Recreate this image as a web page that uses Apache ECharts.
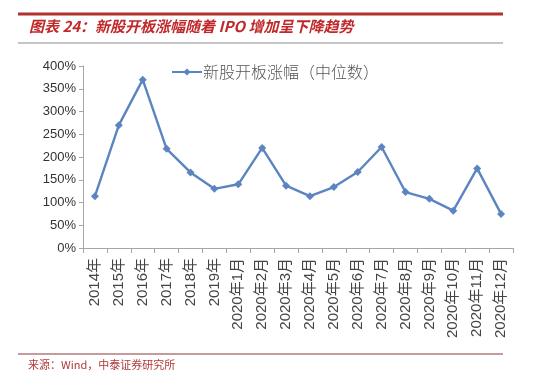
<!DOCTYPE html>
<html><head><meta charset="utf-8">
<script src="https://cdn.jsdelivr.net/npm/echarts@6/dist/echarts.min.js"></script>
<style>html,body{margin:0;padding:0;background:#fff}#c{width:550px;height:385px}</style>
</head><body><div id="c"></div>
<script>
const categories = ['2014年','2015年','2016年','2017年','2018年','2019年','2020年1月','2020年2月','2020年3月','2020年4月','2020年5月','2020年6月','2020年7月','2020年8月','2020年9月','2020年10月','2020年11月','2020年12月'];
const values = [114,270,370,218,166,130,140,220,137,114,134,167,222,123,108,82,175,75];
const seriesName = '新股开板涨幅（中位数）';
const titleText = '图表 24：新股开板涨幅随着 IPO 增加呈下降趋势';
const sourceText = '来源：Wind，中泰证券研究所';

const chart = echarts.init(document.getElementById('c'), null, {renderer:'canvas'});
const lineColor = '#5b84c0';
const diamond = 'path://M0,4 L4,0 L8,4 L4,8 Z';
chart.setOption({
  animation:false,
  textStyle:{fontFamily:'"Liberation Sans","Noto Sans CJK SC",sans-serif'},
  grid:{left:83,right:37,top:66,bottom:137},
  legend:{
    data:[seriesName], left:166, top:59, itemWidth:30, itemHeight:9, itemGap:0,
    textStyle:{fontSize:16,color:'#555',fontFamily:'"Noto Sans CJK SC",sans-serif',fontWeight:300,padding:[0,0,0,-4]}
  },
  xAxis:{
    type:'category', data:categories, boundaryGap:true,
    axisLine:{lineStyle:{color:'#a6a6a6'}},
    axisTick:{show:true,length:5,lineStyle:{color:'#a6a6a6'},alignWithLabel:false},
    axisLabel:{rotate:90,fontSize:15,color:'#444',margin:10,interval:0,fontFamily:'"Liberation Sans","Noto Sans CJK SC",sans-serif'}
  },
  yAxis:{
    type:'value', min:0, max:400, interval:50,
    axisLine:{show:true,lineStyle:{color:'#a6a6a6'}},
    axisTick:{show:true,length:4,lineStyle:{color:'#a6a6a6'}},
    splitLine:{show:false},
    axisLabel:{formatter:'{value}%',fontSize:13,color:'#333',margin:7}
  },
  series:[{
    name:seriesName, type:'line', data:values,
    symbol:diamond, symbolSize:8,
    lineStyle:{color:lineColor,width:2.4},
    itemStyle:{color:lineColor}
  }],
  graphic:[
    {type:'rect',shape:{x:18,y:12.5,width:485,height:3},style:{fill:'#b0312e'}},
    {type:'text',left:29,top:19,style:{text:titleText,fill:'#c0282a',font:'italic bold 15px "Noto Sans CJK SC",sans-serif'}},
    {type:'rect',shape:{x:18,y:42.5,width:485,height:1},style:{fill:'#8c8c8c'}},
    {type:'rect',shape:{x:18,y:353.5,width:485,height:1},style:{fill:'#8b3a3a'}},
    {type:'text',left:28,top:359,style:{text:sourceText,fill:'#b03a3a',font:'11px "Noto Sans CJK SC",sans-serif'}}
  ]
});
</script></body></html>
